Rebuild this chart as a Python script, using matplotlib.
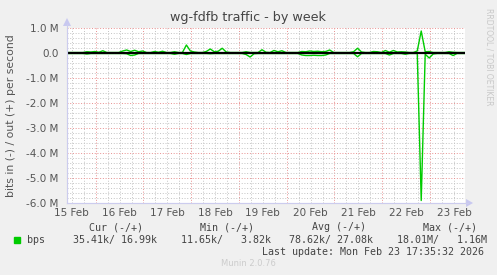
import numpy as np
import pandas as pd
import matplotlib
matplotlib.use("Agg")
import matplotlib.pyplot as plt
import matplotlib.dates as mdates
from matplotlib.ticker import MultipleLocator, FuncFormatter

# ---- data (Mbit/s, 2-hour samples) ----
start = pd.Timestamp("2026-02-15 09:35")
end = pd.Timestamp("2026-02-23 17:35")
times = pd.date_range(start, end, freq="2h")

out_bps = [
    0.02, 0.02, 0.02, 0.02, 0.02, 0.05, 0.04, 0.06, 0.03, 0.09,
    0.02, 0.02, 0.02, 0.02, 0.08, 0.12, 0.06, 0.11, 0.05, 0.08,
    0.02, 0.02, 0.06, 0.03, 0.07, 0.02, 0.02, 0.05, 0.02, 0.02,
    0.32, 0.08, 0.04, 0.02, 0.02, 0.06, 0.16, 0.05, 0.07, 0.19,
    0.04, 0.02, 0.02, 0.02, 0.02, 0.05, 0.02, 0.02, 0.02, 0.13,
    0.03, 0.02, 0.10, 0.05, 0.09, 0.02, 0.02, 0.02, 0.02, 0.06,
    0.05, 0.08, 0.06, 0.07, 0.05, 0.06, 0.12, 0.02, 0.02, 0.02,
    0.02, 0.02, 0.05, 0.19, 0.04, 0.02, 0.02, 0.06, 0.05, 0.02,
    0.10, 0.03, 0.10, 0.04, 0.05, 0.04, 0.02, 0.02, 0.08, 0.88,
    0.05, 0.06, 0.02, 0.02, 0.02, 0.02, 0.05, 0.03, 0.02, 0.02,
    0.02,
]
in_bps = [
    0.02, 0.02, 0.02, 0.02, 0.02, 0.04, 0.02, 0.02, 0.02, 0.02,
    0.02, 0.02, 0.02, 0.02, 0.02, 0.03, 0.10, 0.08, 0.02, 0.02,
    0.02, 0.02, 0.02, 0.02, 0.02, 0.02, 0.02, 0.05, 0.02, 0.02,
    0.06, 0.02, 0.02, 0.02, 0.02, 0.02, 0.03, 0.02, 0.02, 0.02,
    0.02, 0.02, 0.02, 0.02, 0.02, 0.06, 0.16, 0.03, 0.02, 0.02,
    0.02, 0.02, 0.02, 0.02, 0.02, 0.02, 0.02, 0.02, 0.02, 0.08,
    0.10, 0.10, 0.09, 0.10, 0.10, 0.08, 0.02, 0.02, 0.02, 0.02,
    0.02, 0.02, 0.02, 0.15, 0.02, 0.02, 0.02, 0.02, 0.02, 0.02,
    0.02, 0.08, 0.02, 0.02, 0.02, 0.05, 0.02, 0.02, 0.02, 5.90,
    0.05, 0.20, 0.04, 0.02, 0.02, 0.02, 0.02, 0.10, 0.02, 0.02,
    0.02,
]

legend_cols = ["Cur (-/+)", "Min (-/+)", "Avg (-/+)", "Max (-/+)"]
legend_vals = ["35.41k/ 16.99k", "11.65k/   3.82k", "78.62k/ 27.08k", "18.01M/   1.16M"]
series_name = "bps"
title = "wg-fdfb traffic - by week"
ylabel = "bits in (-) / out (+) per second"
last_update = "Last update: Mon Feb 23 17:35:32 2026"

W, H = 497, 275
fig = plt.figure(figsize=(W / 100, H / 100), dpi=100, facecolor="#f0f0f0")
L, R, T, B = 67, 465, 28, 203
ax = fig.add_axes([L / W, 1 - B / H, (R - L) / W, (B - T) / H])
ax.set_facecolor("white")

green = "#00cc00"
ax.plot(times, out_bps, color=green, lw=1.0, zorder=3)
ax.plot(times, [-v for v in in_bps], color=green, lw=1.0, zorder=3)
ax.axhline(0, color="black", lw=1.6, zorder=4)

ax.set_xlim(start, end)
ax.set_ylim(-6, 1)

# grids
ax.yaxis.set_major_locator(MultipleLocator(1.0))
ax.yaxis.set_minor_locator(MultipleLocator(0.2))
ax.xaxis.set_major_locator(mdates.DayLocator())
ax.xaxis.set_minor_locator(mdates.HourLocator(byhour=[6, 12, 18]))
ax.grid(which="minor", color="#c4c4c4", lw=0.7, ls=(0, (1, 1.8)), zorder=1)
ax.grid(which="major", color="#e89090", lw=0.7, ls=(0, (1, 1.8)), zorder=2)

def yfmt(v, pos):
    if abs(v) < 1e-9:
        return "0.0"
    return f"{v:.1f} M"
ax.yaxis.set_major_formatter(FuncFormatter(yfmt))
ax.tick_params(axis="y", which="both", length=0, labelsize=7.5, labelcolor="#555555", pad=6)
ax.tick_params(axis="x", which="both", length=0, labelbottom=False)

# x labels at noon
xlab_tf = matplotlib.transforms.blended_transform_factory(ax.transData, ax.transAxes)
for d in pd.date_range("2026-02-15 12:00", "2026-02-23 12:00", freq="D"):
    ax.text(d, -0.03, d.strftime("%-d %b"), transform=xlab_tf, ha="center", va="top",
            fontsize=7.5, color="#555555")

for s in ["top", "right"]:
    ax.spines[s].set_visible(False)
for s in ["left", "bottom"]:
    ax.spines[s].set_color("#ccccee")
    ax.spines[s].set_linewidth(0.8)

# arrows
fig.patches.append(matplotlib.patches.FancyArrow(
    L / W, 1 - (T - 2) / H, 0, 0.0001, width=0, head_width=8 / W, head_length=8 / H,
    transform=fig.transFigure, color="#c8c8f0", lw=0))
fig.patches.append(matplotlib.patches.FancyArrow(
    (R + 1) / W, 1 - B / H, 0.0001, 0, width=0, head_width=8 / H, head_length=7 / W,
    transform=fig.transFigure, color="#c8c8f0", lw=0))
fig.lines.append(matplotlib.lines.Line2D([L / W, L / W], [1 - B / H, 1 - (T - 4) / H],
                                         transform=fig.transFigure, color="#ccccee", lw=0.8))
fig.lines.append(matplotlib.lines.Line2D([L / W, (R + 3) / W], [1 - B / H, 1 - B / H],
                                         transform=fig.transFigure, color="#ccccee", lw=0.8))

def fx(px):
    return px / W

def fy(py):
    return 1 - py / H

fig.text(fx(248), fy(18), title, ha="center", va="center", fontsize=9.2, color="#444444")
fig.text(fx(11), fy(116), ylabel, ha="center", va="center", rotation=90, fontsize=7.8, color="#555555")
fig.text(fx(489), fy(8), "RRDTOOL / TOBI OETIKER", ha="center", va="top", rotation=270,
         fontsize=5.5, color="#c8c8c8")

mono = "DejaVu Sans Mono"
fs = 7.2
col_x = [89, 200, 312, 423]
val_x = [73, 181, 289, 397]
for x, s in zip(col_x, legend_cols):
    fig.text(fx(x), fy(227), s, ha="left", va="center", family=mono, fontsize=fs, color="#444444")
fig.patches.append(matplotlib.patches.Rectangle((fx(14), fy(243)), 6 / W, 6 / H,
                                                transform=fig.transFigure, color=green))
fig.text(fx(27), fy(240), series_name, ha="left", va="center", family=mono, fontsize=fs, color="#444444")
for x, s in zip(val_x, legend_vals):
    fig.text(fx(x), fy(240), s, ha="left", va="center", family=mono, fontsize=fs, color="#444444")
fig.text(fx(262), fy(252), last_update, ha="left", va="center", family=mono, fontsize=fs, color="#444444")
fig.text(fx(248), fy(264), "Munin 2.0.76", ha="center", va="center", fontsize=6, color="#cccccc")

fig.savefig("out.png", dpi=100, facecolor=fig.get_facecolor())
